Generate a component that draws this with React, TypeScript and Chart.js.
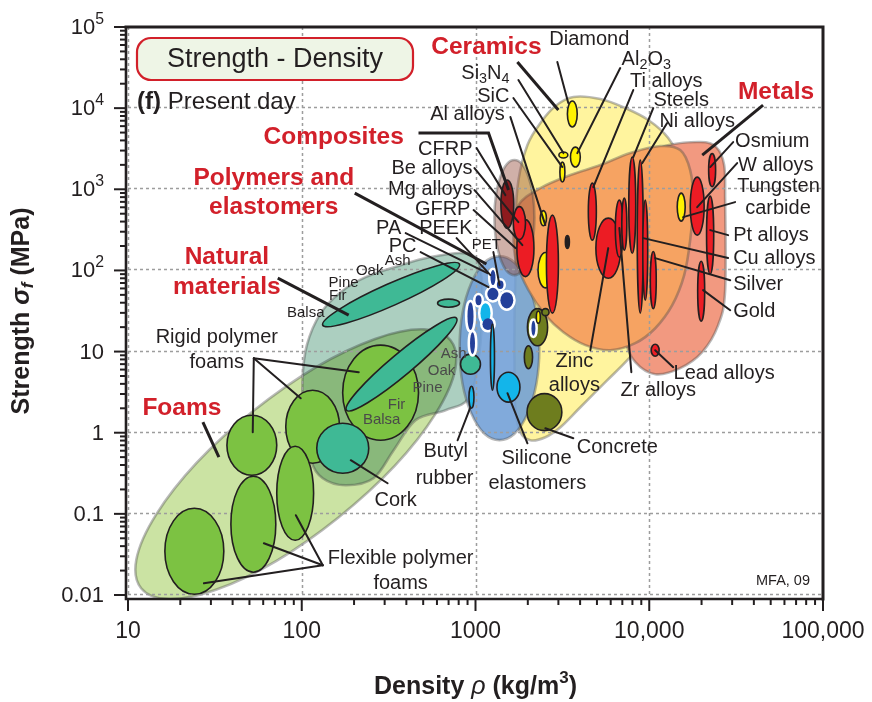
import { useEffect, useRef } from "react";
import { Chart, registerables } from "chart.js";

Chart.register(...registerables);

type Pair = [number, number];
type Bubble = { name: string; rho: Pair; sigma: Pair; group?: string };
type Streak = { name: string; from: Pair; to: Pair; span: number };
type Align = "left" | "center" | "right";
type Note = [string, number, number, Align];

// ---------- axes ----------
const densityTicks = [10, 100, 1000, 10000, 100000];
const densityTickLabels = ["10", "100", "1000", "10,000", "100,000"];
const strengthTicks = [0.01, 0.1, 1, 10, 100, 1000, 10000, 100000];
const strengthTickLabels = ["0.01", "0.1", "1", "10", "10^2", "10^3", "10^4", "10^5"];

// ---------- material bubbles: density (kg/m3) range, strength (MPa) range ----------
const foams: Bubble[] = [
  { name: "Rigid polymer foam, low", rho: [37.1, 71.8], sigma: [0.299, 1.64] },
  { name: "Rigid polymer foam, mid", rho: [80.9, 165], sigma: [0.421, 3.34] },
  { name: "Rigid polymer foam, high", rho: [172, 470], sigma: [0.808, 12.0] },
  { name: "Flexible polymer foam, low", rho: [16.3, 35.6], sigma: [0.0102, 0.117] },
  { name: "Flexible polymer foam, mid", rho: [39.1, 70.9], sigma: [0.0191, 0.291] },
  { name: "Flexible polymer foam, high", rho: [71.8, 117], sigma: [0.0473, 0.681] },
];

const woodGrain: Streak[] = [
  { name: "Wood, parallel to grain", from: [132, 21.2], to: [809, 119.6], span: 0.27 },
  { name: "Wood, perpendicular to grain", from: [181, 1.89], to: [778, 25.8], span: 0.27 },
];

const naturalMaterials: Bubble[] = [
  { name: "Bamboo", rho: [605, 809], sigma: [35.2, 44.3] },
  { name: "Palm", rho: [820, 1068], sigma: [5.26, 9.29] },
  { name: "Cork", rho: [122, 243], sigma: [0.317, 1.31] },
];

const nonTechnicalCeramics: Bubble[] = [
  { name: "Stone", rho: [1990, 2600], sigma: [11.8, 33.8] },
  { name: "Brick", rho: [1910, 2130], sigma: [6.15, 11.8] },
  { name: "Limestone", rho: [2410, 2650], sigma: [27.7, 33.8] },
  { name: "Concrete", rho: [1980, 3140], sigma: [1.06, 3.03] },
];

const polymers: Bubble[] = [
  { name: "PE", rho: [930, 993], sigma: [9.29, 17.3], group: "opaque" },
  { name: "PP", rho: [899, 974], sigma: [18.4, 40.6], group: "opaque" },
  { name: "PS", rho: [1000, 1083], sigma: [37.3, 49.5], group: "opaque" },
  { name: "PMMA", rho: [1068, 1219], sigma: [22.4, 39.5], group: "clear" },
  { name: "PA", rho: [1097, 1268], sigma: [18.4, 25.8], group: "opaque" },
  { name: "PEEK", rho: [1219, 1303], sigma: [66, 101], group: "opaque" },
  { name: "POM", rho: [1327, 1450], sigma: [59, 75], group: "opaque" },
  { name: "PC", rho: [1170, 1355], sigma: [43, 61], group: "opaque" },
  { name: "PET", rho: [1390, 1650], sigma: [34, 54], group: "opaque" },
  { name: "PTFE", rho: [2098, 2212], sigma: [15.7, 24.0], group: "opaque" },
];

const elastomers: Bubble[] = [
  { name: "Neoprene", rho: [1219, 1286], sigma: [3.34, 21.8] },
  { name: "Silicone elastomers", rho: [1329, 1802], sigma: [2.38, 5.57] },
  { name: "Butyl rubber", rho: [917, 980], sigma: [2.0, 3.74] },
];

const technicalCeramics: Bubble[] = [
  { name: "Silica glass", rho: [2240, 2360], sigma: [22.4, 31.5] },
  { name: "Soda glass", rho: [2290, 2790], sigma: [61, 166] },
  { name: "Glass ceramic", rho: [2360, 2560], sigma: [356, 546] },
  { name: "Diamond", rho: [3380, 3850], sigma: [5850, 12240] },
  { name: "Al2O3", rho: [3520, 4010], sigma: [1880, 3310] },
  { name: "SiC", rho: [3060, 3270], sigma: [1230, 2160] },
  { name: "Si3N4", rho: [3020, 3400], sigma: [2430, 2880] },
  { name: "Tungsten carbide", rho: [14490, 16100], sigma: [405, 898] },
];

const composites: Bubble[] = [
  { name: "CFRP", rho: [1400, 1660], sigma: [330, 1300] },
];

const metals: Bubble[] = [
  { name: "Zinc alloys", rho: [4930, 6850], sigma: [80, 441] },
  { name: "Mg alloys", rho: [1730, 2170], sigma: [83.8, 423] },
  { name: "Be alloys", rho: [1650, 1940], sigma: [240, 612] },
  { name: "Al alloys", rho: [2560, 3000], sigma: [29.8, 481] },
  { name: "Ti alloys", rho: [4460, 4960], sigma: [236, 1192] },
  { name: "Zr alloys", rho: [6380, 7090], sigma: [146, 736] },
  { name: "Cast irons", rho: [6950, 7430], sigma: [178, 779] },
  { name: "Steels", rho: [7625, 8360], sigma: [163, 2495] },
  { name: "Ni alloys", rho: [8530, 9240], sigma: [29.8, 2291] },
  { name: "Cu alloys", rho: [9180, 9800], sigma: [43, 736] },
  { name: "Silver", rho: [10140, 10970], sigma: [33.8, 171] },
  { name: "Lead alloys", rho: [10260, 11400], sigma: [8.77, 12.3] },
  { name: "W alloys", rho: [17220, 20700], sigma: [272, 1413] },
  { name: "Gold", rho: [19000, 20850], sigma: [23.7, 130] },
  { name: "Pt alloys", rho: [21370, 23500], sigma: [90, 824] },
  { name: "Osmium", rho: [21970, 24100], sigma: [1078, 2754] },
  { name: "Metallic glass", rho: [3290, 3470], sigma: [186, 269], group: "dark" },
];

// ---------- family envelopes ----------
const foamEnvelope: Streak = { name: "Foams", from: [11.9, 0.0121], to: [718, 13.8], span: 1.68 };
const naturalEnvelope: Pair[] = [
  [842, 163.5], [1040, 126.6], [1097, 43.0], [1040, 7.83], [912, 2.66], [672, 1.89],
  [452, 1.43], [338, 0.608], [259, 0.275], [179, 0.225], [132, 0.275], [113, 0.458],
  [103, 1.43], [101, 4.44], [107, 12.0], [128.6, 29.8], [167.6, 54.0], [233, 82.7],
  [371, 116], [551, 146],
];
const ceramicEnvelope: Pair[] = [
  [3658, 13710], [5228, 12950], [7278, 10030], [9870, 7134], [12860, 4279], [15480, 1988],
  [16750, 736], [16100, 178], [13205, 43.0], [9870, 15.9], [7474, 7.83], [5736, 4.44],
  [4012, 2.06], [3080, 1.17], [2525, 0.88], [2071, 0.808], [1814, 1.01], [1698, 1.89],
  [1676, 5.9], [1676, 24.4], [1698, 100.9], [1698, 417], [1767, 1298], [1991, 3508],
  [2364, 6551], [2883, 10610],
];
const polymerEnvelope = { rho: [810, 2330] as Pair, sigma: [0.81, 150] as Pair };
const compositeEnvelope = { rho: [1285, 2183] as Pair, sigma: [87.5, 2291] as Pair };
const denseMetalEnvelope: Pair[] = [
  [8878, 2291], [12360, 3410], [19640, 3820], [24280, 3310], [26980, 1988], [27340, 736],
  [27340, 57.2], [24930, 21.2], [20170, 9.83], [15074, 6.24], [10830, 5.26], [8310, 7.4],
  [7278, 13.8], [6813, 43.0], [6813, 417], [7278, 1298],
];
const metalEnvelope: Pair[] = [
  [1654, 272.4], [1767, 638.7], [2364, 1035], [3516, 1497], [5228, 1988], [7777, 2795],
  [11567, 3410], [15074, 3044], [17202, 1725], [17900, 736], [17202, 236], [15890, 87.5],
  [13560, 37.3], [10830, 19.4], [8310, 12.7], [5968, 10.4], [4288, 12.0], [3204, 17.3],
  [2525, 28.1], [2017, 57.2], [1720, 126.6],
];

// ---------- annotations, anchored in decades (log10 density, log10 strength) ----------
const materialNotes: Note[] = [
  ["Diamond", 3.655, 4.84, "center"],
  ["Al_2O_3", 3.983, 4.605, "center"],
  ["Ti alloys", 4.098, 4.334, "center"],
  ["Steels", 4.184, 4.1, "center"],
  ["Ni alloys", 4.276, 3.841, "center"],
  ["Si_3N_4", 3.057, 4.433, "center"],
  ["SiC", 3.103, 4.149, "center"],
  ["Al alloys", 2.954, 3.927, "center"],
  ["CFRP", 2.983, 3.496, "right"],
  ["Be alloys", 2.983, 3.261, "right"],
  ["Mg alloys", 2.983, 3.002, "right"],
  ["GFRP", 2.971, 2.756, "right"],
  ["PEEK", 2.983, 2.522, "right"],
  ["PA", 2.5, 2.522, "center"],
  ["PC", 2.58, 2.3, "center"],
  ["Rigid polymer", 1.511, 1.178, "center"],
  ["foams", 1.511, 0.869, "center"],
  ["Butyl", 2.828, -0.228, "center"],
  ["rubber", 2.822, -0.561, "center"],
  ["Silicone", 3.351, -0.314, "center"],
  ["elastomers", 3.356, -0.623, "center"],
  ["Concrete", 3.816, -0.179, "center"],
  ["Zinc", 3.569, 0.882, "center"],
  ["alloys", 3.569, 0.586, "center"],
  ["Zr alloys", 4.052, 0.524, "center"],
  ["Lead alloys", 4.431, 0.734, "center"],
  ["Cork", 2.54, -0.832, "center"],
  ["Flexible polymer", 2.569, -1.547, "center"],
  ["foams", 2.569, -1.856, "center"],
  ["Osmium", 4.494, 3.594, "left"],
  ["W alloys", 4.511, 3.298, "left"],
  ["Tungsten", 4.506, 3.039, "left"],
  ["carbide", 4.552, 2.768, "left"],
  ["Pt alloys", 4.483, 2.435, "left"],
  ["Cu alloys", 4.483, 2.152, "left"],
  ["Silver", 4.483, 1.831, "left"],
  ["Gold", 4.483, 1.498, "left"],
];

const smallNotes: Note[] = [
  ["PET", 3.063, 2.312, "center"],
  ["Ash", 2.552, 2.115, "center"],
  ["Oak", 2.391, 1.991, "center"],
  ["Pine", 2.241, 1.843, "center"],
  ["Fir", 2.207, 1.683, "center"],
  ["Balsa", 2.023, 1.473, "center"],
];

const acrossGrainNotes: Note[] = [
  ["Ash", 2.874, 0.968, "center"],
  ["Oak", 2.805, 0.758, "center"],
  ["Pine", 2.724, 0.549, "center"],
  ["Fir", 2.546, 0.339, "center"],
  ["Balsa", 2.46, 0.154, "center"],
];

const familyNotes: Note[] = [
  ["Ceramics", 3.063, 4.753, "center"],
  ["Metals", 4.73, 4.199, "center"],
  ["Composites", 2.184, 3.644, "center"],
  ["Polymers and", 1.839, 3.138, "center"],
  ["elastomers", 1.839, 2.78, "center"],
  ["Natural", 1.569, 2.164, "center"],
  ["materials", 1.569, 1.794, "center"],
  ["Foams", 1.31, 0.302, "center"],
];

// leader lines: [from log ρ, from log σ, to log ρ, to log σ]
const leaders: number[][] = [
  [3.471, 4.568, 3.534, 4.063],
  [3.833, 4.494, 3.586, 3.446],
  [3.908, 4.223, 3.678, 3.027],
  [4.023, 4.001, 3.908, 3.397],
  [4.103, 3.816, 3.96, 3.323],
  [3.247, 4.346, 3.506, 3.446],
  [3.218, 4.125, 3.5, 3.274],
  [3.201, 3.89, 3.402, 2.559],
  [3.006, 3.508, 3.172, 2.928],
  [2.994, 3.261, 3.247, 2.596],
  [2.994, 2.99, 3.27, 2.312],
  [2.989, 2.744, 3.23, 2.275],
  [2.891, 2.398, 3.086, 1.942],
  [3.103, 2.226, 3.138, 1.819],
  [2.598, 2.46, 3.069, 1.967],
  [2.684, 2.226, 3.075, 1.794],
  [1.724, 0.919, 1.718, 0.006],
  [1.724, 0.919, 1.994, 0.425],
  [1.724, 0.919, 2.328, 0.746],
  [2.121, -1.634, 1.437, -1.856],
  [2.121, -1.634, 1.782, -1.362],
  [2.121, -1.634, 1.966, -1.017],
  [2.494, -0.623, 2.282, -0.339],
  [2.897, -0.093, 2.971, 0.314],
  [3.299, -0.13, 3.184, 0.487],
  [3.563, -0.068, 3.402, 0.055],
  [3.661, 1.017, 3.764, 2.275],
  [3.897, 0.746, 3.828, 2.522],
  [4.138, 0.808, 4.034, 1.017],
  [4.483, 3.582, 4.351, 3.274],
  [4.506, 3.323, 4.276, 2.78],
  [4.494, 2.842, 4.195, 2.657],
  [4.454, 2.435, 4.351, 2.497],
  [4.454, 2.152, 3.966, 2.398],
  [4.466, 1.88, 4.034, 2.152],
  [4.466, 1.51, 4.31, 1.757],
];

// family leaders as polylines of (log ρ, log σ)
const familyLeaders: Pair[][] = [
  [[3.241, 4.568], [3.477, 3.977]],
  [[4.655, 4.038], [4.305, 3.422]],
  [[2.672, 3.693], [3.075, 3.693], [3.19, 2.99]],
  [[2.305, 2.953], [3.063, 2.079]],
  [[1.862, 1.905], [2.27, 1.449]],
  [[1.431, 0.129], [1.523, -0.302]],
];

// ---------- drawing ----------
const FONT = '"Liberation Sans", Arial, Helvetica, sans-serif';
const INK = "#231f20";
const FAMILY_RED = "#d2202a";

type Seg = { t: string; small: boolean; dy: number };

function parseRich(text: string, size: number): Seg[] {
  const segs: Seg[] = [];
  for (let i = 0; i < text.length; i++) {
    const c = text[i];
    if ((c === "_" || c === "^") && i + 1 < text.length) {
      segs.push({ t: text[i + 1], small: true, dy: c === "_" ? size * 0.3 : -size * 0.4 });
      i++;
    } else {
      const last = segs[segs.length - 1];
      if (last && !last.small) last.t += c;
      else segs.push({ t: c, small: false, dy: 0 });
    }
  }
  return segs;
}

function drawRich(
  ctx: CanvasRenderingContext2D,
  text: string,
  x: number,
  y: number,
  size: number,
  weight: string,
  color: string,
  align: Align
) {
  const segs = parseRich(text, size);
  const fontFor = (s: Seg) => `${weight} ${s.small ? size * 0.72 : size}px ${FONT}`;
  let w = 0;
  for (const s of segs) {
    ctx.font = fontFor(s);
    w += ctx.measureText(s.t).width;
  }
  let cx = align === "left" ? x : align === "right" ? x - w : x - w / 2;
  ctx.textAlign = "left";
  ctx.textBaseline = "middle";
  ctx.fillStyle = color;
  for (const s of segs) {
    ctx.font = fontFor(s);
    ctx.fillText(s.t, cx, y + s.dy);
    cx += ctx.measureText(s.t).width;
  }
}

type Piece = { t: string; font: string; dy: number };
function drawPieces(ctx: CanvasRenderingContext2D, pieces: Piece[], x: number, y: number) {
  let w = 0;
  for (const p of pieces) {
    ctx.font = p.font;
    w += ctx.measureText(p.t).width;
  }
  let cx = x - w / 2;
  ctx.textAlign = "left";
  ctx.textBaseline = "middle";
  ctx.fillStyle = INK;
  for (const p of pieces) {
    ctx.font = p.font;
    ctx.fillText(p.t, cx, y + p.dy);
    cx += ctx.measureText(p.t).width;
  }
}

function smoothClosed(ctx: CanvasRenderingContext2D, pts: Pair[]) {
  const n = pts.length;
  ctx.beginPath();
  ctx.moveTo(pts[0][0], pts[0][1]);
  for (let i = 0; i < n; i++) {
    const p0 = pts[(i - 1 + n) % n];
    const p1 = pts[i];
    const p2 = pts[(i + 1) % n];
    const p3 = pts[(i + 2) % n];
    ctx.bezierCurveTo(
      p1[0] + (p2[0] - p0[0]) / 6,
      p1[1] + (p2[1] - p0[1]) / 6,
      p2[0] - (p3[0] - p1[0]) / 6,
      p2[1] - (p3[1] - p1[1]) / 6,
      p2[0],
      p2[1]
    );
  }
  ctx.closePath();
}

const ashbyPlugin = {
  id: "ashbyChart",
  beforeDraw(chart: any) {
    const { ctx, width, height } = chart;
    ctx.save();
    ctx.fillStyle = "#ffffff";
    ctx.fillRect(0, 0, width, height);
    ctx.restore();
  },
  afterDraw(chart: any) {
    const ctx: CanvasRenderingContext2D = chart.ctx;
    const a = chart.chartArea;
    const xs = chart.scales.x;
    const ys = chart.scales.y;
    const X = (v: number) => xs.getPixelForValue(v);
    const Y = (v: number) => ys.getPixelForValue(v);
    const XD = (d: number) => X(Math.pow(10, d));
    const YD = (d: number) => Y(Math.pow(10, d));

    const boxPath = (rho: Pair, sigma: Pair) => {
      const x1 = X(rho[0]), x2 = X(rho[1]);
      const y1 = Y(sigma[1]), y2 = Y(sigma[0]);
      ctx.beginPath();
      ctx.ellipse((x1 + x2) / 2, (y1 + y2) / 2, Math.max((x2 - x1) / 2, 1), Math.max((y2 - y1) / 2, 1), 0, 0, Math.PI * 2);
    };
    const streakPath = (s: Streak) => {
      const x1 = X(s.from[0]), y1 = Y(s.from[1]);
      const x2 = X(s.to[0]), y2 = Y(s.to[1]);
      const half = Math.abs(Y(1) - Y(Math.pow(10, s.span))) / 2;
      ctx.beginPath();
      ctx.ellipse((x1 + x2) / 2, (y1 + y2) / 2, Math.hypot(x2 - x1, y2 - y1) / 2, half, Math.atan2(y2 - y1, x2 - x1), 0, Math.PI * 2);
    };
    const outlinePath = (pts: Pair[]) => smoothClosed(ctx, pts.map((p) => [X(p[0]), Y(p[1])] as Pair));

    const paintEnvelope = (fill: string, op: string) => {
      ctx.globalCompositeOperation = op as GlobalCompositeOperation;
      ctx.fillStyle = fill;
      ctx.fill();
      ctx.globalCompositeOperation = "source-over";
      ctx.lineWidth = 2.6;
      ctx.strokeStyle = "rgba(70,70,70,0.38)";
      ctx.stroke();
    };
    const paintBubble = (fill: string, edge: string, lw: number) => {
      ctx.fillStyle = fill;
      ctx.fill();
      ctx.lineWidth = lw;
      ctx.strokeStyle = edge;
      ctx.stroke();
    };

    ctx.save();
    ctx.beginPath();
    ctx.rect(a.left - 1, a.top, a.right - a.left + 1, a.bottom - a.top + 4);
    ctx.clip();

    // envelopes
    streakPath(foamEnvelope);
    paintEnvelope("rgb(203,227,163)", "multiply");
    outlinePath(naturalEnvelope);
    paintEnvelope("rgb(172,207,192)", "multiply");
    outlinePath(ceramicEnvelope);
    paintEnvelope("rgb(255,244,158)", "multiply");
    boxPath(polymerEnvelope.rho, polymerEnvelope.sigma);
    paintEnvelope("rgba(112,158,214,0.88)", "source-over");
    outlinePath(denseMetalEnvelope);
    paintEnvelope("rgb(242,153,128)", "source-over");
    outlinePath(metalEnvelope);
    paintEnvelope("rgb(246,163,98)", "source-over");
    boxPath(compositeEnvelope.rho, compositeEnvelope.sigma);
    paintEnvelope("rgba(150,80,62,0.45)", "source-over");

    // decade grid
    ctx.setLineDash([3, 3]);
    ctx.lineWidth = 1.5;
    ctx.strokeStyle = "#9d9d9d";
    for (const v of densityTicks) {
      const x = Math.round(X(v)) + 0.5;
      ctx.beginPath();
      ctx.moveTo(x, a.top);
      ctx.lineTo(x, a.bottom);
      ctx.stroke();
    }
    for (const v of strengthTicks) {
      const y = Math.round(Y(v)) - 0.5;
      ctx.beginPath();
      ctx.moveTo(a.left, y);
      ctx.lineTo(a.right, y);
      ctx.stroke();
    }
    ctx.setLineDash([]);

    // bubbles
    for (const b of foams) {
      boxPath(b.rho, b.sigma);
      paintBubble("#7cc242", INK, 1.6);
    }
    for (const s of woodGrain) {
      streakPath(s);
      paintBubble("#3fb995", INK, 1.6);
    }
    for (const b of naturalMaterials) {
      boxPath(b.rho, b.sigma);
      paintBubble("#3fb995", INK, 1.6);
    }
    for (const b of nonTechnicalCeramics) {
      boxPath(b.rho, b.sigma);
      paintBubble("#6e7d1e", INK, 1.6);
    }
    // thermoplastics: white halo first, then fills, so the cluster reads as one outlined group
    for (const b of polymers) {
      boxPath(b.rho, b.sigma);
      ctx.lineWidth = 5;
      ctx.strokeStyle = "#ffffff";
      ctx.stroke();
    }
    for (const b of polymers) {
      boxPath(b.rho, b.sigma);
      ctx.fillStyle = b.group === "clear" ? "#13b5ea" : "#24409a";
      ctx.fill();
    }
    for (const b of elastomers) {
      boxPath(b.rho, b.sigma);
      paintBubble("#13b5ea", INK, 1.6);
    }
    for (const b of technicalCeramics) {
      boxPath(b.rho, b.sigma);
      paintBubble("#fff200", INK, 1.6);
    }
    for (const b of composites) {
      boxPath(b.rho, b.sigma);
      paintBubble("#8e1b1e", INK, 1.6);
    }
    for (const b of metals) {
      boxPath(b.rho, b.sigma);
      paintBubble(b.group === "dark" ? INK : "#ec1c24", INK, 1.6);
    }
    ctx.restore();

    // leader lines
    ctx.save();
    ctx.strokeStyle = INK;
    ctx.lineCap = "round";
    ctx.lineWidth = 2;
    for (const l of leaders) {
      ctx.beginPath();
      ctx.moveTo(XD(l[0]), YD(l[1]));
      ctx.lineTo(XD(l[2]), YD(l[3]));
      ctx.stroke();
    }
    ctx.lineWidth = 3;
    ctx.lineCap = "butt";
    for (const line of familyLeaders) {
      ctx.beginPath();
      line.forEach((p, i) => (i === 0 ? ctx.moveTo(XD(p[0]), YD(p[1])) : ctx.lineTo(XD(p[0]), YD(p[1]))));
      ctx.stroke();
    }
    ctx.restore();

    // labels
    for (const [t, lx, ly, al] of materialNotes) drawRich(ctx, t, XD(lx), YD(ly), 20, "normal", INK, al);
    for (const [t, lx, ly, al] of smallNotes) drawRich(ctx, t, XD(lx), YD(ly), 15, "normal", INK, al);
    for (const [t, lx, ly, al] of acrossGrainNotes) drawRich(ctx, t, XD(lx), YD(ly), 15, "normal", "#4a4a4a", al);
    for (const [t, lx, ly, al] of familyNotes) drawRich(ctx, t, XD(lx), YD(ly), 24.5, "bold", FAMILY_RED, al);
    drawRich(ctx, "MFA, 09", a.right - 13, a.bottom - 14, 14.5, "normal", INK, "right");

    // title box
    ctx.save();
    const bx = a.left + 9, by = a.top + 11, bw = 276, bh = 42;
    ctx.beginPath();
    ctx.roundRect(bx, by, bw, bh, 14);
    ctx.fillStyle = "#eef5e6";
    ctx.fill();
    ctx.lineWidth = 2.2;
    ctx.strokeStyle = FAMILY_RED;
    ctx.stroke();
    ctx.restore();
    drawRich(ctx, "Strength - Density", bx + bw / 2, by + bh / 2 + 1, 27, "normal", INK, "center");
    drawRich(ctx, "(f)", a.left + 9, a.top + 75, 24, "bold", INK, "left");
    ctx.font = `bold 24px ${FONT}`;
    const fw = ctx.measureText("(f) ").width;
    drawRich(ctx, "Present day", a.left + 9 + fw, a.top + 75, 24, "normal", INK, "left");

    // axes frame and ticks
    ctx.save();
    ctx.strokeStyle = INK;
    const axX = a.left - 2;
    const axY = a.bottom + 4;
    ctx.lineWidth = 3;
    ctx.beginPath();
    ctx.moveTo(axX - 1.5, a.top);
    ctx.lineTo(a.right, a.top);
    ctx.moveTo(a.right, a.top - 1.5);
    ctx.lineTo(a.right, axY + 1.5);
    ctx.stroke();
    ctx.lineWidth = 2.6;
    ctx.beginPath();
    ctx.moveTo(axX, a.top);
    ctx.lineTo(axX, axY);
    ctx.lineTo(a.right, axY);
    ctx.stroke();
    ctx.lineWidth = 2;
    for (let n = 1; n <= 5; n++) {
      for (let k = 1; k <= 9; k++) {
        const v = k * Math.pow(10, n);
        if (v > 100000) break;
        const x = X(v);
        const len = k === 1 ? 12 : 6;
        ctx.beginPath();
        ctx.moveTo(x, axY);
        ctx.lineTo(x, axY + len);
        ctx.stroke();
      }
    }
    for (let n = -2; n <= 5; n++) {
      for (let k = 1; k <= 9; k++) {
        const v = k * Math.pow(10, n);
        if (v > 100000 * 1.0001) break;
        const y = Y(v);
        const len = k === 1 ? 12 : 6;
        ctx.beginPath();
        ctx.moveTo(axX, y);
        ctx.lineTo(axX - len, y);
        ctx.stroke();
      }
    }
    ctx.restore();

    densityTicks.forEach((v, i) => {
      drawRich(ctx, densityTickLabels[i], X(v), axY + 33, 23, "normal", INK, "center");
    });
    strengthTicks.forEach((v, i) => {
      drawRich(ctx, strengthTickLabels[i], axX - 22, Y(v) + 1, 22, "normal", INK, "right");
    });

    // axis titles
    const bold = `bold 25px ${FONT}`;
    drawPieces(
      ctx,
      [
        { t: "Density ", font: bold, dy: 0 },
        { t: "\u03c1", font: `italic 25px ${FONT}`, dy: 0 },
        { t: " (kg/m", font: bold, dy: 0 },
        { t: "3", font: `bold 17px ${FONT}`, dy: -9 },
        { t: ")", font: bold, dy: 0 },
      ],
      (a.left + a.right) / 2,
      a.bottom + 92
    );
    ctx.save();
    ctx.translate(22, (a.top + a.bottom) / 2);
    ctx.rotate(-Math.PI / 2);
    drawPieces(
      ctx,
      [
        { t: "Strength ", font: bold, dy: 0 },
        { t: "\u03c3", font: `italic bold 25px ${FONT}`, dy: 0 },
        { t: "f", font: `italic bold 17px ${FONT}`, dy: 6 },
        { t: " (MPa)", font: bold, dy: 0 },
      ],
      0,
      0
    );
    ctx.restore();
  },
};

export default function App() {
  const canvasRef = useRef<HTMLCanvasElement>(null);

  useEffect(() => {
    const canvas = canvasRef.current;
    if (!canvas) return;
    const chart = new Chart(canvas, {
      type: "scatter",
      data: { datasets: [{ data: [] }] },
      options: {
        animation: false,
        responsive: false,
        devicePixelRatio: 1,
        events: [],
        layout: { padding: { left: 128, right: 49, top: 27, bottom: 107 } },
        plugins: { legend: { display: false }, tooltip: { enabled: false } },
        scales: {
          x: { type: "logarithmic", min: 10, max: 100000, display: false },
          y: { type: "logarithmic", min: 0.01, max: 100000, display: false },
        },
      },
      plugins: [ashbyPlugin],
    });
    return () => chart.destroy();
  }, []);

  return (
    <div style={{ position: "fixed", left: 0, top: 0, width: 872, height: 702, background: "#ffffff" }}>
      <canvas ref={canvasRef} width={872} height={702} style={{ display: "block" }} />
    </div>
  );
}
